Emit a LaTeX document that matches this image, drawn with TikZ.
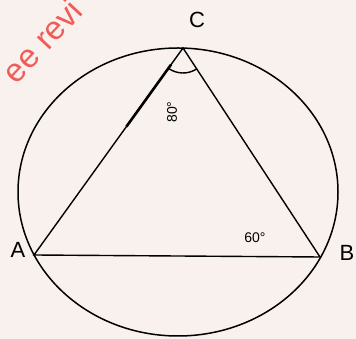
\documentclass[tikz,border=0pt]{standalone}
\usepackage{fontspec}
\setmainfont{Liberation Sans}
\definecolor{paper}{RGB}{248,241,238}
\definecolor{stamp}{RGB}{240,92,88}
\usetikzlibrary{calc}

\begin{document}
\begin{tikzpicture}[x=1pt,y=1pt,
    pt/.style={font=\fontsize{22}{22}\selectfont},
    ang/.style={font=\fontsize{14}{14}\selectfont},
    edge/.style={line width=1.4pt,black}]
    \fill[paper] (0,0) rectangle (356,339);
    \useasboundingbox (0,0) rectangle (356,339);
    \node[stamp,rotate=47,font=\fontsize{33}{33}\selectfont] (mark) at (42,298) {ee revi};
    \coordinate (O) at (178,147);
    \coordinate (C) at (183,291);
    \coordinate (A) at (34,84);
    \coordinate (B) at (320,82);
    \draw[line width=1.5pt] (O) ellipse[x radius=160,y radius=144];
    \draw[edge] (A)--(B)--(C)--cycle;
    \draw[line width=2.6pt] ($(C)!0.08!(A)$)--($(C)!0.38!(A)$);
    \draw[edge] ([shift={(234:25)}]C) arc[start angle=234,end angle=303,radius=25];
    \node[pt] (lC) at (197,319) {C};
    \node[pt] (lA) at (18,89) {A};
    \node[pt] (lB) at (347,86) {B};
    \node[ang,rotate=90] (aC) at (172,227) {80\textdegree};
    \node[ang] (aB) at (255,101) {60\textdegree};
  \end{tikzpicture}
\end{document}
